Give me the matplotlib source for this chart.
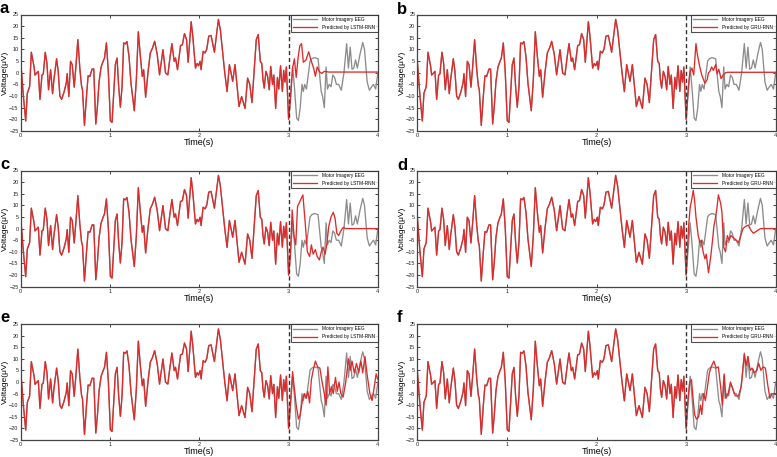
import numpy as np
import matplotlib.pyplot as plt

plt.rcParams['font.family']=['Liberation Sans','DejaVu Sans']

#------------------------------------------------------------------------------
# data: (time s, voltage uV)

#EEG before the prediction point (shared by all panels)
eeg_hist=[(0.000,4.9),(0.030,-10),(0.056,-20.7),(0.074,-8.8),(0.100,-6),(0.119,8.8),
          (0.149,2.7),(0.160,-1),(0.197,0.6),(0.216,-11.4),(0.238,-1),(0.253,-0.5),
          (0.275,8.8),(0.294,4),(0.312,-7.3),(0.335,1.3),(0.357,-9),(0.372,-3),
          (0.402,6),(0.420,0.6),(0.439,-10),(0.458,-11.4),(0.484,-8.5),(0.510,-4.5),
          (0.521,-0.4),(0.539,-10.2),(0.558,4.9),(0.577,3.5),(0.599,-6.2),(0.618,2.7),
          (0.640,14.2),(0.662,2),(0.681,-5.6),(0.692,-7.3),(0.714,-22.6),(0.737,-10),
          (0.755,-1.3),(0.774,-1.6),(0.800,1.6),(0.818,1.6),(0.841,-22),(0.859,-14.5),
          (0.878,-3.7),(0.900,2.4),(0.923,4.9),(0.938,6.3),(0.960,12.8),(0.982,-0.1),
          (1.004,-20.6),(1.023,-21.3),(1.042,-8.8),(1.060,3.5),(1.079,6.3),(1.097,-5.9),
          (1.116,-14.8),(1.135,-5.9),(1.153,12.8),(1.172,12.4),(1.190,13.4),(1.213,7),
          (1.235,-4.5),(1.272,-16.3),(1.295,-3),(1.317,17.6),(1.340,7),(1.362,-1.6),
          (1.377,1.3),(1.399,-10.5),(1.425,0),(1.451,8.5),(1.475,10.5),(1.500,13.5),
          (1.529,7.8),(1.555,-0.9),(1.593,9.9),(1.622,-0.1),(1.648,-0.9),(1.670,6),
          (1.693,12.5),(1.719,4.9),(1.734,6.3),(1.756,1.3),(1.790,11.7),(1.810,12),
          (1.834,16.8),(1.857,14.2),(1.875,4.5),(1.909,21.9),(1.927,15.7),(1.957,2.0),
          (1.975,4),(1.991,3.0),(2.009,4.9),(2.020,1.3),(2.043,9.2),(2.065,8.5),
          (2.084,10.2),(2.106,15.7),(2.132,16.0),(2.169,8.8),(2.214,22.9),(2.236,18.3),
          (2.262,8.5),(2.285,0),(2.311,-8.1),(2.337,3.5),(2.363,-1.6),(2.374,-3.7),
          (2.400,3.5),(2.445,-14.5),(2.474,-10.2),(2.512,-15.3),(2.541,-2.3),(2.565,-5),
          (2.590,-12.8),(2.638,14.2),(2.660,16.4),(2.683,4.9),(2.700,4),(2.713,-3),
          (2.727,-6.6),(2.746,0.6),(2.765,-1.6),(2.783,-7.3),(2.800,2.7),(2.820,-5),
          (2.835,-1),(2.855,-15.3),(2.875,-2),(2.890,-7),(2.910,3),(2.930,-8),
          (2.945,1),(2.960,-4),(2.975,2.5),(3.000,-20)]

#EEG after the prediction point
eeg_future=[(3.025,-8),(3.045,2.5),(3.065,-6),(3.090,-19.5),(3.110,-20.5),(3.130,-15),
            (3.150,-5),(3.165,-8),(3.180,-5),(3.200,-7),(3.220,-1),(3.240,5),
            (3.260,6),(3.290,6.5),(3.330,6),(3.345,0),(3.365,-8),(3.380,-10),
            (3.400,-15),(3.420,2.5),(3.435,-7),(3.455,-5),(3.475,-6),(3.495,-1),
            (3.515,-2),(3.535,-5),(3.560,-5),(3.590,-7.5),(3.620,0),(3.650,12.5),
            (3.670,2),(3.690,11),(3.710,1.5),(3.730,2),(3.750,5.5),(3.770,2),
            (3.800,8),(3.830,13),(3.850,10),(3.880,-4),(3.905,-7.5),(3.930,-6),
            (3.950,-5),(3.975,-7),(4.000,0)]

#predictions (after 3 s)
pred_a=[(3.020,-12),(3.045,2),(3.065,6),(3.085,-2),(3.105,6),(3.125,11.5),(3.145,12.5),
        (3.165,4.5),(3.195,5.5),(3.225,9),(3.250,5.5),(3.280,2),(3.300,-1.5),(3.320,2.5),
        (3.345,0.5),(3.370,-0.3),(3.400,0.6),(3.450,0.3),(4.000,0.3)]

pred_b=[(3.025,-6),(3.045,0.5),(3.065,2),(3.085,-1),(3.110,12.5),(3.125,8),(3.150,3),
        (3.175,-1),(3.210,-4.5),(3.235,-3),(3.250,0),(3.265,0.5),(3.285,2.5),(3.305,1),
        (3.330,3.5),(3.345,-0.5),(3.365,1.5),(3.390,-2.5),(3.415,-1),(3.440,0),
        (3.460,0.2),(4.000,0.2)]

pred_c=[(3.020,-12),(3.040,8),(3.060,-3),(3.080,-7),(3.100,9.5),(3.130,12),(3.160,14.5),
        (3.185,3),(3.210,-10),(3.235,-12),(3.255,-7),(3.275,-11),(3.300,-9),(3.320,-12),
        (3.345,-13.5),(3.365,-10),(3.385,-8),(3.410,-11),(3.430,-6),(3.450,1),(3.475,5),
        (3.500,7),(3.520,4.5),(3.540,-2),(3.560,-3),(3.585,-1),(3.610,0.5),(3.640,0),
        (4.000,0)]

pred_d=[(3.030,2),(3.045,9),(3.065,13),(3.080,16.5),(3.095,12),(3.110,5),(3.135,-3),
        (3.155,-6),(3.170,-5),(3.190,-10),(3.210,-13),(3.225,-11),(3.250,-19),(3.275,-12),
        (3.295,-5),(3.310,1),(3.325,4),(3.345,9),(3.360,14.5),(3.385,11),(3.400,7),
        (3.420,-8),(3.440,-10),(3.460,-3),(3.480,-5),(3.500,-3),(3.530,-4),(3.560,-5),
        (3.585,-6),(3.610,-3),(3.635,0),(3.665,1),(3.695,1.5),(3.720,-0.5),(3.750,-2),
        (3.790,-1),(3.830,0),(4.000,0)]

pred_e=[(3.020,-10),(3.045,4.5),(3.065,-3),(3.085,-10),(3.110,-16),(3.130,-14),(3.155,-8),
        (3.175,-5),(3.195,-7),(3.215,-4),(3.235,-9),(3.255,1),(3.275,5),(3.300,9),
        (3.325,6.5),(3.350,6),(3.375,0),(3.400,-5),(3.420,-10),(3.440,6.5),(3.460,-5),
        (3.480,-2),(3.500,-5),(3.525,2),(3.545,-4),(3.565,0),(3.585,-5),(3.610,-6.5),
        (3.640,0),(3.670,10),(3.690,5),(3.710,9),(3.735,4),(3.760,8),(3.785,4),(3.810,9),
        (3.830,4),(3.855,11),(3.880,3),(3.910,-5),(3.935,-8),(3.960,-2),(3.980,3.5),
        (4.000,1)]

pred_f=[(3.020,-8),(3.040,0),(3.060,1),(3.075,-6),(3.095,-14),(3.115,-16),(3.140,-15),
        (3.160,-10),(3.175,-14),(3.195,-5),(3.215,-8),(3.235,-3),(3.260,4),(3.285,7),
        (3.310,9),(3.335,6),(3.360,6.5),(3.385,-2),(3.405,-10),(3.425,3.5),(3.445,-7),
        (3.470,-5),(3.495,0),(3.520,-3),(3.550,-6),(3.585,-6),(3.615,-2),(3.650,12),
        (3.670,7),(3.690,11),(3.715,5),(3.735,6),(3.760,4),(3.790,5),(3.810,8),(3.835,5),
        (3.860,6.5),(3.885,6),(3.910,-1),(3.935,-7),(3.960,-5),(4.000,-5)]

panel_labels=['a','b','c','d','e','f']
model_names=['LSTM-RNN','GRU-RNN','LSTM-RNN','GRU-RNN','LSTM-RNN','GRU-RNN']
predictions=[pred_a,pred_b,pred_c,pred_d,pred_e,pred_f]

#------------------------------------------------------------------------------
W,H=777,457

#axes boxes in pixels: left, top, right, bottom
col_x=[(20.7,377.9),(417.3,775.7)]
row_y=[(14.5,131),(170.5,286.7),(324,440)]
label_xy=[(0,13),(397,14),(0,169),(397,170),(0,322),(397,322)]

eeg_color='#8c8c8c'
pred_color='#de2a2a'

fig=plt.figure(figsize=(W/100,H/100),dpi=100)

eeg=np.array(eeg_hist+eeg_future)

for i in range(6):

    row,col=i//2,i%2
    x0,x1=col_x[col]
    y0,y1=row_y[row]

    ax=fig.add_axes([x0/W,1-y1/H,(x1-x0)/W,(y1-y0)/H])

    red=np.array(eeg_hist+predictions[i])

    ax.plot(eeg[:,0],eeg[:,1],color=eeg_color,lw=0.95,label='Motor Imagery EEG')
    ax.plot(red[:,0],red[:,1],color=pred_color,lw=0.95,
            label='Predicted by '+model_names[i])
    ax.axvline(3,color='#333333',lw=1.0,ls=(0,(3,2)))

    ax.set_xlim(0,4)
    ax.set_ylim(-25,25)
    ax.set_xticks([0,1,2,3,4])
    ax.set_yticks(np.arange(-25,26,5))

    ax.tick_params(direction='in',length=2.5,width=0.6,top=True,right=True,
                   labelsize=4,pad=1.5,colors='#222222')
    for s in ax.spines.values():
        s.set_color('#444444')
        s.set_linewidth(0.9)

    ax.set_xlabel('Time(s)',fontsize=6.5)
    ax.set_ylabel('Voltage(\u03bcV)',fontsize=6)
    ax.xaxis.set_label_coords(0.5,-0.06)
    ax.yaxis.set_label_coords(-0.032,0.5)

    leg=ax.legend(loc='upper right',fontsize=3.4,borderaxespad=0,fancybox=False,
                  handlelength=5,handletextpad=1.2,borderpad=0.5,labelspacing=0.6)
    leg.get_frame().set_edgecolor('#222222')
    leg.get_frame().set_linewidth(0.8)

    lx,ly=label_xy[i]
    fig.text(lx/W,1-ly/H,panel_labels[i],fontsize=12,fontweight='bold',
             ha='left',va='baseline')

fig.savefig('out.png',dpi=100)
